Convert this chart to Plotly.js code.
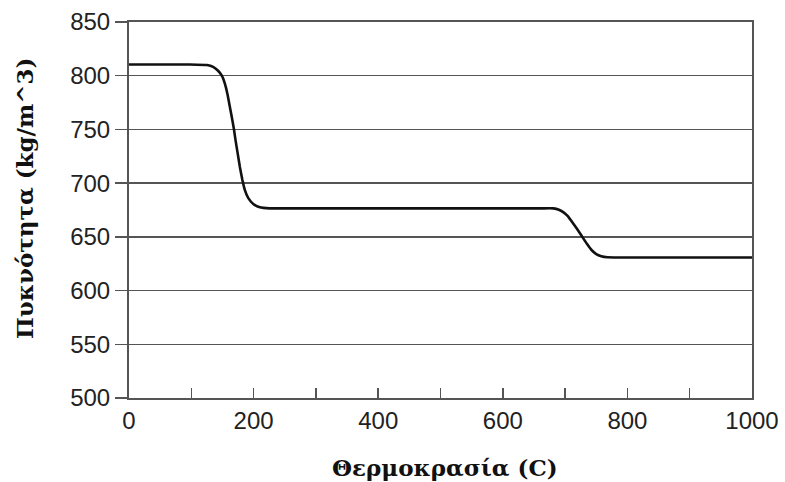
<!DOCTYPE html>
<html>
<head>
<meta charset="utf-8">
<script src="https://cdn.plot.ly/plotly-3.0.1.min.js"></script>
<style>html,body{margin:0;padding:0;background:#fff;}#chart{width:785px;height:482px;}</style>
</head>
<body>
<div id="chart"></div>
<script>
// Temperature (C) and density (kg/m^3)
var temperature = [0, 98, 125, 135, 143, 149, 154, 158, 162, 166, 168.5, 171, 174.5, 178, 182, 186, 191.5, 199.5, 210, 226, 242,
                   660, 681, 690, 697, 704, 711, 719, 727, 735, 742, 750, 758, 768, 785, 1000];
var density =     [810.5, 810.5, 810, 808.3, 804.6, 800, 792.3, 783, 770.7, 758.3, 750, 740, 727.5, 715, 703, 693.5, 686, 680.6, 677.5, 676.5, 676.5,
                   676.5, 676.5, 675.3, 673, 669.5, 664, 657.5, 650.5, 643.5, 638, 634, 632, 631, 630.8, 630.8];
var xTickVals = [0, 200, 400, 600, 800, 1000];
var yTickVals = [500, 550, 600, 650, 700, 750, 800, 850];
var yTitle = "Πυκνότητα (kg/m^3)";
var xTitle = "Θερμοκρασία (C)";

var trace = {
  x: temperature,
  y: density,
  type: 'scatter',
  mode: 'lines',
  line: {color: '#111', width: 2.6, shape: 'spline', smoothing: 0.4},
  hoverinfo: 'x+y'
};

var axisColor = '#555';
var titleFont = {family: 'DejaVu Serif, Liberation Serif, serif', size: 23, color: '#111', weight: 'bold'};
var layout = {
  width: 785,
  height: 482,
  margin: {l: 129, r: 33, t: 22, b: 84},
  paper_bgcolor: '#fff',
  plot_bgcolor: '#fff',
  showlegend: false,
  xaxis: {
    range: [0, 1000],
    tickvals: xTickVals,
    ticktext: xTickVals.map(String),
    ticks: 'inside',
    ticklen: 10,
    tickwidth: 1.5,
    tickcolor: axisColor,
    minor: {dtick: 100, ticks: 'inside', ticklen: 10, tickwidth: 1.5, tickcolor: axisColor, showgrid: false},
    showgrid: false,
    zeroline: false,
    showline: true,
    linecolor: axisColor,
    linewidth: 2,
    mirror: true,
    tickfont: {family: 'Liberation Sans, Arial, sans-serif', size: 24, color: '#222'}
  },
  yaxis: {
    range: [500, 850],
    tickvals: yTickVals,
    ticktext: yTickVals.map(String),
    ticks: 'outside',
    ticklen: 12,
    tickwidth: 1.5,
    tickcolor: axisColor,
    showgrid: true,
    gridcolor: '#555',
    gridwidth: 1.5,
    zeroline: false,
    showline: true,
    linecolor: axisColor,
    linewidth: 2,
    mirror: true,
    tickfont: {family: 'Liberation Sans, Arial, sans-serif', size: 24, color: '#222'}
  },
  annotations: [
    {text: yTitle, xref: 'paper', yref: 'paper', x: -0.167, y: 0.532, xanchor: 'center', yanchor: 'middle',
     textangle: -90, showarrow: false, font: titleFont},
    {text: xTitle, xref: 'paper', yref: 'paper', x: 0.507, y: -0.186, xanchor: 'center', yanchor: 'middle',
     showarrow: false, font: titleFont}
  ]
};

Plotly.newPlot('chart', [trace], layout, {staticPlot: true, displayModeBar: false});
</script>
</body>
</html>
